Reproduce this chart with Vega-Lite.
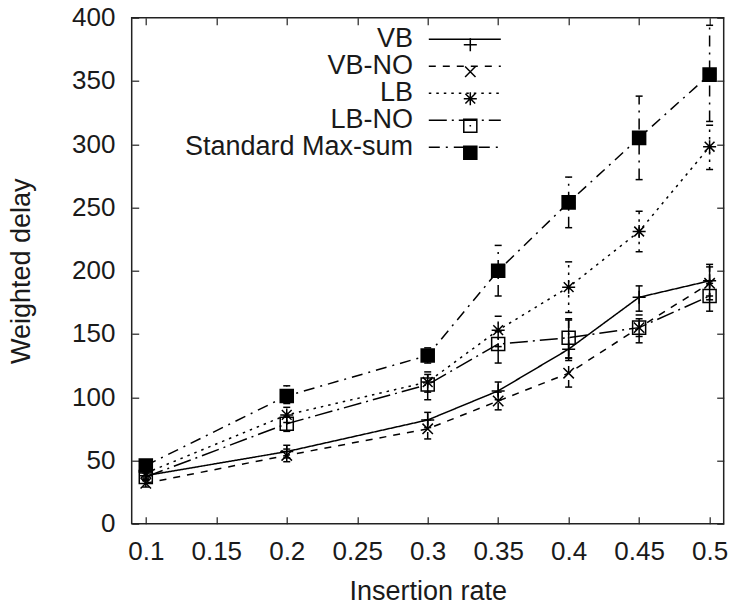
{
  "$schema": "https://vega.github.io/schema/vega-lite/v6.json",
  "width": 592,
  "height": 506,
  "autosize": {"type": "none"},
  "padding": {"left": 131.7, "top": 17.7, "right": 9.3, "bottom": 85.3},
  "config": {
    "font": "Liberation Sans",
    "view": {"stroke": "#222", "strokeWidth": 1.5},
    "axis": {"grid": false, "domain": false, "tickColor": "#222", "tickWidth": 1.2, "labelColor": "#1a1a1a", "titleColor": "#1a1a1a", "labelFont": "Liberation Sans", "titleFont": "Liberation Sans"}
  },
  "data": {"values": [
    {"rate": 0.1, "method": "VB", "delay": 38, "lo": 35, "hi": 42},
    {"rate": 0.2, "method": "VB", "delay": 57, "lo": 52, "hi": 62},
    {"rate": 0.3, "method": "VB", "delay": 82, "lo": 76, "hi": 88},
    {"rate": 0.35, "method": "VB", "delay": 105, "lo": 98, "hi": 112},
    {"rate": 0.4, "method": "VB", "delay": 138, "lo": 129, "hi": 161},
    {"rate": 0.45, "method": "VB", "delay": 179, "lo": 168, "hi": 188},
    {"rate": 0.5, "method": "VB", "delay": 192, "lo": 180, "hi": 205},
    {"rate": 0.1, "method": "VB-NO", "delay": 32, "lo": 29, "hi": 36},
    {"rate": 0.2, "method": "VB-NO", "delay": 54, "lo": 49, "hi": 59},
    {"rate": 0.3, "method": "VB-NO", "delay": 75, "lo": 67, "hi": 82},
    {"rate": 0.35, "method": "VB-NO", "delay": 97, "lo": 90, "hi": 104},
    {"rate": 0.4, "method": "VB-NO", "delay": 119, "lo": 108, "hi": 131},
    {"rate": 0.45, "method": "VB-NO", "delay": 155, "lo": 143, "hi": 165},
    {"rate": 0.5, "method": "VB-NO", "delay": 190, "lo": 177, "hi": 203},
    {"rate": 0.1, "method": "LB", "delay": 40, "lo": 37, "hi": 44},
    {"rate": 0.2, "method": "LB", "delay": 86, "lo": 80, "hi": 92},
    {"rate": 0.3, "method": "LB", "delay": 112, "lo": 104, "hi": 120},
    {"rate": 0.35, "method": "LB", "delay": 153, "lo": 140, "hi": 164},
    {"rate": 0.4, "method": "LB", "delay": 187, "lo": 167, "hi": 207},
    {"rate": 0.45, "method": "LB", "delay": 231, "lo": 215, "hi": 247},
    {"rate": 0.5, "method": "LB", "delay": 298, "lo": 280, "hi": 315},
    {"rate": 0.1, "method": "LB-NO", "delay": 37, "lo": 34, "hi": 40},
    {"rate": 0.2, "method": "LB-NO", "delay": 79, "lo": 73, "hi": 85},
    {"rate": 0.3, "method": "LB-NO", "delay": 110, "lo": 98, "hi": 118},
    {"rate": 0.35, "method": "LB-NO", "delay": 142, "lo": 127, "hi": 152},
    {"rate": 0.4, "method": "LB-NO", "delay": 147, "lo": 131, "hi": 162},
    {"rate": 0.45, "method": "LB-NO", "delay": 155, "lo": 148, "hi": 162},
    {"rate": 0.5, "method": "LB-NO", "delay": 180, "lo": 168, "hi": 190},
    {"rate": 0.1, "method": "Standard Max-sum", "delay": 46, "lo": 42, "hi": 50},
    {"rate": 0.2, "method": "Standard Max-sum", "delay": 101, "lo": 95, "hi": 109},
    {"rate": 0.3, "method": "Standard Max-sum", "delay": 133, "lo": 127, "hi": 139},
    {"rate": 0.35, "method": "Standard Max-sum", "delay": 200, "lo": 180, "hi": 220},
    {"rate": 0.4, "method": "Standard Max-sum", "delay": 254, "lo": 234, "hi": 274},
    {"rate": 0.45, "method": "Standard Max-sum", "delay": 305, "lo": 272, "hi": 338},
    {"rate": 0.5, "method": "Standard Max-sum", "delay": 355, "lo": 318, "hi": 394}
  ]},
  "layer": [
    {
      "mark": {"type": "line", "color": "black", "strokeWidth": 1.5},
      "encoding": {
        "x": {"field": "rate", "type": "quantitative", "title": "Insertion rate",
          "scale": {"domain": [0.09, 0.51], "nice": false, "zero": false},
          "axis": {"orient": "bottom", "values": [0.1, 0.15, 0.2, 0.25, 0.3, 0.35, 0.4, 0.45, 0.5], "format": "~g", "tickSize": -7, "labelFontSize": 26, "labelPadding": 22, "labelFlush": false, "labelOverlap": false, "titleFontSize": 27, "titleFontWeight": "normal", "titleX": 296, "titleY": 76, "titleBaseline": "alphabetic", "titleAlign": "center"}},
        "y": {"field": "delay", "type": "quantitative", "title": "Weighted delay",
          "scale": {"domain": [0, 400], "nice": false},
          "axis": {"orient": "left", "values": [0, 50, 100, 150, 200, 250, 300, 350, 400], "tickSize": -7, "labelFontSize": 26, "labelPadding": 23.7, "labelFlush": false, "labelOverlap": false, "titleFontSize": 27, "titleFontWeight": "normal", "titleX": -102.4, "titleY": 253, "titleAngle": -90, "titleBaseline": "alphabetic", "titleAlign": "center"}},
        "strokeDash": {"field": "method", "type": "nominal",
          "scale": {"domain": ["VB", "VB-NO", "LB", "LB-NO", "Standard Max-sum"], "range": [[1, 0], [7, 7], [2.5, 5], [18, 5, 2, 5], [11, 6, 2, 6]]},
          "legend": {"orient": "none", "legendX": 319.6, "legendY": 8, "title": null, "padding": 0, "symbolType": "M-3,0H3", "symbolSize": 576, "symbolStrokeColor": "black", "symbolStrokeWidth": 1.5, "symbolFillColor": "transparent", "labelFontSize": 27, "labelColor": "#1a1a1a", "labelFont": "Liberation Sans", "labelAlign": "right", "labelOffset": -65.3, "rowPadding": -2, "labelLimit": 400}}
      }
    },
    {
      "mark": {"type": "rule", "color": "black", "strokeWidth": 1.5},
      "encoding": {
        "x": {"field": "rate", "type": "quantitative", "axis": null},
        "y": {"field": "lo", "type": "quantitative", "axis": null},
        "y2": {"field": "hi"},
        "strokeDash": {"field": "method", "type": "nominal"}
      }
    },
    {
      "mark": {"type": "point", "shape": "stroke", "size": 49, "color": "black", "strokeWidth": 1.5, "filled": false, "opacity": 1},
      "encoding": {
        "x": {"field": "rate", "type": "quantitative", "axis": {"orient": "top", "values": [0.1, 0.15, 0.2, 0.25, 0.3, 0.35, 0.4, 0.45, 0.5], "tickSize": -7, "labels": false, "title": null}},
        "y": {"field": "lo", "type": "quantitative", "axis": {"orient": "right", "values": [0, 50, 100, 150, 200, 250, 300, 350, 400], "tickSize": -7, "labels": false, "title": null}}
      }
    },
    {
      "mark": {"type": "point", "shape": "stroke", "size": 49, "color": "black", "strokeWidth": 1.5, "filled": false, "opacity": 1},
      "encoding": {
        "x": {"field": "rate", "type": "quantitative", "axis": null},
        "y": {"field": "hi", "type": "quantitative", "axis": null}
      }
    },
    {
      "mark": {"type": "point", "size": 170, "color": "black", "filled": false, "strokeWidth": 1.5, "opacity": 1},
      "encoding": {
        "x": {"field": "rate", "type": "quantitative", "axis": null},
        "y": {"field": "delay", "type": "quantitative", "axis": null},
        "shape": {"field": "method", "type": "nominal",
          "scale": {"domain": ["VB", "VB-NO", "LB", "LB-NO", "Standard Max-sum", "_"], "range": ["M-1,0H1M0,-1V1", "M-0.8,-0.8L0.8,0.8M-0.8,0.8L0.8,-0.8", "M-1,0H1M0,-1V1M-0.75,-0.75L0.75,0.75M-0.75,0.75L0.75,-0.75", "M-1,-1H1V1H-1ZM-0.12,0H0.12", "M-1,-1H1V1H-1ZM-1,-0.8H1M-1,-0.6H1M-1,-0.4H1M-1,-0.2H1M-1,0H1M-1,0.2H1M-1,0.4H1M-1,0.6H1M-1,0.8H1", "circle"]},
          "legend": {"orient": "none", "legendX": 325.1, "legendY": 13.5, "title": null, "padding": 0, "values": ["VB", "VB-NO", "LB", "LB-NO", "Standard Max-sum"], "symbolSize": 170, "symbolStrokeColor": "black", "symbolStrokeWidth": 1.5, "symbolFillColor": "transparent", "labelFontSize": 27, "labelExpr": "''", "labelOffset": 0, "rowPadding": -2}}
      }
    }
  ]
}
